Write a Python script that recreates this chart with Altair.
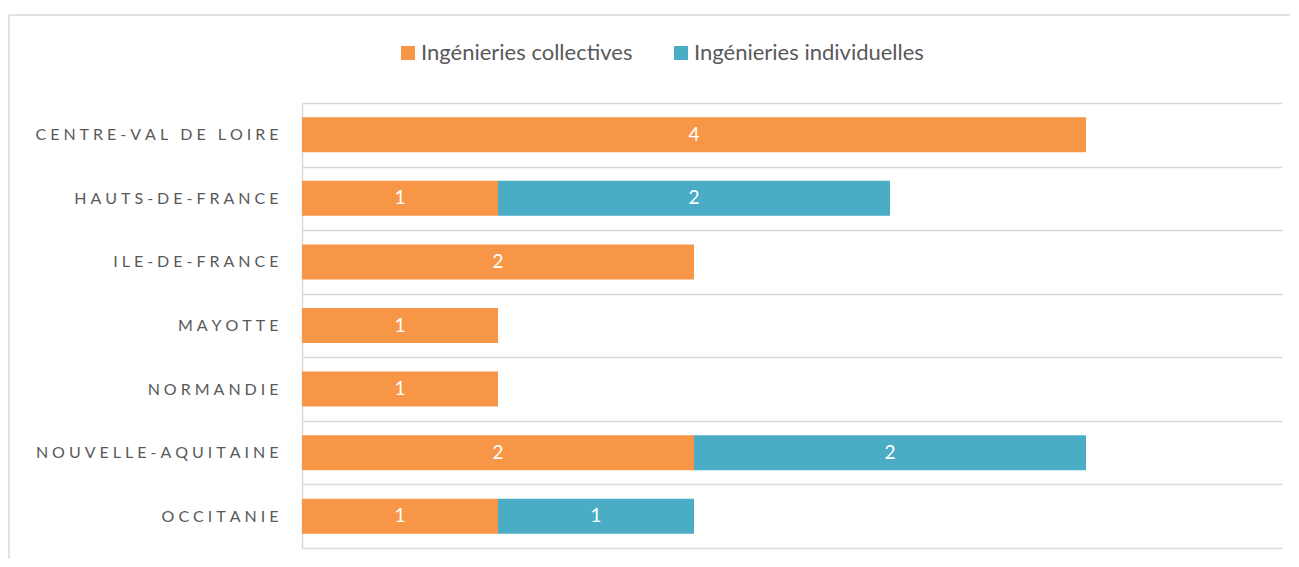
import altair as alt
import pandas as pd

regions = ["CENTRE-VAL DE LOIRE", "HAUTS-DE-FRANCE", "ILE-DE-FRANCE", "MAYOTTE",
           "NORMANDIE", "NOUVELLE-AQUITAINE", "OCCITANIE"]
collectives = [4, 1, 2, 1, 1, 2, 1]
individuelles = [0, 2, 0, 0, 0, 2, 1]
series = ["Ingénieries collectives", "Ingénieries individuelles"]
colors = ["#F79646", "#4BACC6"]

rows = []
for r, c, i in zip(regions, collectives, individuelles):
    rows.append({"region": r, "serie": series[0], "value": c, "order": 0})
    rows.append({"region": r, "serie": series[1], "value": i, "order": 1})
df = pd.DataFrame(rows)

FONT = "Lato"
GRID = "#d9d9d9"
TXT = "#595959"

base = (
    alt.Chart(df)
    .transform_stack(stack="value", groupby=["region"], as_=["x0", "x1"],
                     sort=[alt.SortField("order")])
    .transform_calculate(mid="(datum.x0 + datum.x1) / 2")
    .transform_filter("datum.value > 0")
)

yenc = alt.Y(
    "region:N", sort=regions,
    scale=alt.Scale(paddingInner=0, paddingOuter=0),
    axis=alt.Axis(title=None, ticks=False, grid=True, tickBand="extent",
                  gridColor=GRID, gridWidth=1.5, domainColor=GRID, domainWidth=1.5,
                  labelFont=FONT, labelFontSize=16, labelColor=TXT, labelPadding=24,
                  labelLimit=0,
                  labelExpr="join(split(datum.label, ''), '\u2005')"),
)

bars = base.mark_bar(size=35).encode(
    x=alt.X("x0:Q", scale=alt.Scale(domain=[0, 5]), axis=None),
    x2="x1:Q",
    y=yenc,
    color=alt.Color(
        "serie:N", scale=alt.Scale(domain=series, range=colors),
        legend=alt.Legend(title=None, orient="none", direction="horizontal",
                          legendX=95, legendY=-61, symbolType="square",
                          symbolSize=196, symbolStrokeWidth=0, labelFont=FONT,
                          labelFontSize=22, labelColor=TXT, labelOffset=2,
                          labelLimit=0, columnPadding=37),
    ),
)

text = base.mark_text(color="white", font=FONT, fontSize=19).encode(
    x=alt.X("mid:Q", scale=alt.Scale(domain=[0, 5]), axis=None),
    y=yenc,
    text="value:Q",
)

frame_df = pd.DataFrame({"k": [0]})
frame_left = alt.Chart(frame_df).mark_rule(color=GRID, strokeWidth=1.5).encode(
    x=alt.value(-293), y=alt.value(-88), y2=alt.value(456))
frame_top = alt.Chart(frame_df).mark_rule(color=GRID, strokeWidth=1.5).encode(
    x=alt.value(-293), x2=alt.value(988), y=alt.value(-88))

chart = (
    alt.layer(frame_left, frame_top, bars, text)
    .properties(width=980, height=445,
                padding={"left": 0, "top": 6, "right": 0, "bottom": 0})
    .configure_view(stroke=None)
)

chart.save("out.html", embed_options={"renderer": "svg", "actions": False})
